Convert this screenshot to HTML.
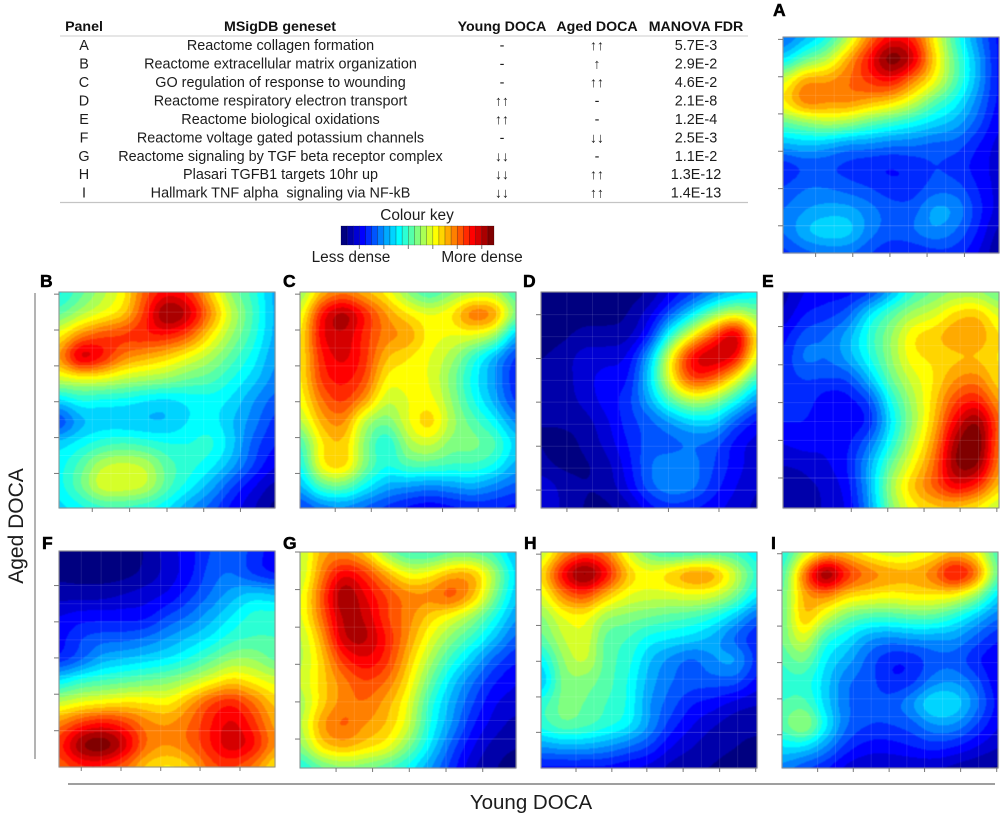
<!DOCTYPE html>
<html lang="en">
<head>
<meta charset="utf-8">
<title>Young and aged DOCA geneset density plots</title>
<style>
html,body{margin:0;padding:0;background:#fff;width:1000px;height:821px;overflow:hidden}
svg{display:block}
text{font-family:"Liberation Sans",sans-serif;fill:#1c1c1c}
.h{font-weight:bold;font-size:14.2px;text-anchor:middle;fill:#111}
.c{font-size:14.4px;text-anchor:middle}
.a{font-size:14px;text-anchor:middle}
.l{font-weight:bold;font-size:17.5px;fill:#000;stroke:#000;stroke-width:.5px}
.k{font-size:15.4px;text-anchor:middle}
</style>
</head>
<body>
<svg id="figure" width="1000" height="821" viewBox="0 0 1000 821" xmlns="http://www.w3.org/2000/svg">
  <g>
    <g>
      <text class="h" x="84" y="31">Panel</text>
      <text class="h" x="280" y="31">MSigDB geneset</text>
      <text class="h" x="502" y="31">Young DOCA</text>
      <text class="h" x="597" y="31">Aged DOCA</text>
      <text class="h" x="696" y="31">MANOVA FDR</text>
    </g>
    <line x1="60" y1="36" x2="748" y2="36" stroke="#d8d8d8" stroke-width="1.3"/>
    <g><text class="c" x="84" y="50">A</text><text class="c" x="280.500" y="50">Reactome collagen formation</text><text class="c" x="502" y="50">-</text><text class="a" x="597" y="50">↑↑</text><text class="c" x="696" y="50">5.7E-3</text></g>
    <g><text class="c" x="84" y="68.500">B</text><text class="c" x="280.500" y="68.500">Reactome extracellular matrix organization</text><text class="c" x="502" y="68.500">-</text><text class="a" x="597" y="68.500">↑</text><text class="c" x="696" y="68.500">2.9E-2</text></g>
    <g><text class="c" x="84" y="87">C</text><text class="c" x="280.500" y="87">GO regulation of response to wounding</text><text class="c" x="502" y="87">-</text><text class="a" x="597" y="87">↑↑</text><text class="c" x="696" y="87">4.6E-2</text></g>
    <g><text class="c" x="84" y="105.500">D</text><text class="c" x="280.500" y="105.500">Reactome respiratory electron transport</text><text class="a" x="502" y="105.500">↑↑</text><text class="c" x="597" y="105.500">-</text><text class="c" x="696" y="105.500">2.1E-8</text></g>
    <g><text class="c" x="84" y="124">E</text><text class="c" x="280.500" y="124">Reactome biological oxidations</text><text class="a" x="502" y="124">↑↑</text><text class="c" x="597" y="124">-</text><text class="c" x="696" y="124">1.2E-4</text></g>
    <g><text class="c" x="84" y="142.500">F</text><text class="c" x="280.500" y="142.500">Reactome voltage gated potassium channels</text><text class="c" x="502" y="142.500">-</text><text class="a" x="597" y="142.500">↓↓</text><text class="c" x="696" y="142.500">2.5E-3</text></g>
    <g><text class="c" x="84" y="161">G</text><text class="c" x="280.500" y="161">Reactome signaling by TGF beta receptor complex</text><text class="a" x="502" y="161">↓↓</text><text class="c" x="597" y="161">-</text><text class="c" x="696" y="161">1.1E-2</text></g>
    <g><text class="c" x="84" y="179">H</text><text class="c" x="280.500" y="179">Plasari TGFB1 targets 10hr up</text><text class="a" x="502" y="179">↓↓</text><text class="a" x="597" y="179">↑↑</text><text class="c" x="696" y="179">1.3E-12</text></g>
    <g><text class="c" x="84" y="197.500">I</text><text class="c" x="280.500" y="197.500">Hallmark TNF alpha&#160; signaling via NF-kB</text><text class="a" x="502" y="197.500">↓↓</text><text class="a" x="597" y="197.500">↑↑</text><text class="c" x="696" y="197.500">1.4E-13</text></g>
    <line x1="60" y1="202.500" x2="748" y2="202.500" stroke="#c4c4c4" stroke-width="1.3"/>
  </g>
  <g id="colour-key">
    <text class="k" x="417" y="220">Colour key</text>
    <text class="k" x="351" y="262">Less dense</text>
    <text class="k" x="482" y="262">More dense</text>
  </g>
  <g id="panels"></g>
  <line x1="35" y1="293" x2="35" y2="759" stroke="#8a8a8a" stroke-width="1.3"/>
  <line x1="68" y1="784" x2="995" y2="784" stroke="#666" stroke-width="1.3"/>
  <text transform="translate(23 526) rotate(-90)" text-anchor="middle" style="font-size:21px">Aged DOCA</text>
  <text x="531" y="809" text-anchor="middle" style="font-size:20.5px">Young DOCA</text>
</svg>
<script>
// Density band levels (0 = least dense, 24 = most dense), rows top to bottom.
const densityA = [
[5,7,9,13,18,21,20,15,10,6,3],[8,11,13,17,21,25,22.5,16,11,7,3],[14,17.5,17.5,18.5,20,21,18,15,11,7,3],
[15.5,18.5,18,18,17,16,14,11,9,6,3],[11,12,13,12.5,11,10,9,8,7,5,2.5],[7,7.5,7,6,6,5.5,5.5,5,5,3.5,2],
[3.5,4.5,4.5,4,3.5,3.3,3.7,4.5,4,3,2],[4.5,5.5,5.5,5,4.5,3.8,3.8,5,5,3.5,2],[5.5,6.5,7,7,6,5,5,7,6.5,4,2],
[5.5,7.5,8.5,8.2,6,5,5.5,6.5,5.5,3.5,1],[4,5,5.5,5.5,4.5,3.5,3.5,4,4,2.5,0.5]];
const densityB = [
[9,11,13,15,19,21,20,16,12,10,7],[11,13,14.5,16,20,24.5,22.5,18,13.5,10.5,7],[15,18,19.5,20,20.5,20.5,19,15.5,12.5,10,7],
[17.5,23,21,18,17,16,14.5,13,11,9,6.5],[14,14.5,14.5,13.5,13,12.5,11.5,11,9.5,8,6],[8,9.5,9,9,8.3,8,8.7,9,8.3,6.5,5],
[4,7,7.7,7.5,7.3,7.3,8.5,9,7.5,6,4],[8,9,10,10.5,10,9.5,9.5,10,8,5,3.5],[9,11,13.5,14,13.5,11,10,9,7,4.5,2.5],
[9,11.5,14.5,14.5,13.8,11,9,7,4.5,2.5,1],[8,9,10,10,9.5,8.5,6.5,5,3,1.5,0]];
const densityC = [
[12,16.5,18,16.5,15,12,10,12,13,13,10],[14,21,23.5,20.5,17.5,15.5,14.5,15.5,19,18,12],[15,21.5,22.5,20,18,17.5,15,14.5,14.5,13,7],
[15,20.5,22,20,16.5,15.5,14.5,13,10,7,4],[15,20,21,19.5,15,15,14.5,12,9,6.5,3.5],[14.5,18.5,20,17.5,13.5,14.5,15,12.5,9.5,7,4],
[13,17,18,13,11.5,14.5,16.5,13,11,9,6],[10,15.5,16.5,12,9,13,14,12,12,11,8],[9,15.5,16.5,12,9.5,11,11,10.5,10.5,9.5,7],
[7,11,11.5,9,7,6.5,6,6.5,7,6,5],[4,5.5,6,5,4,3,2.5,3,3.5,3.5,3]];
const densityD = [
[0,0,0,0,0,0.5,2.5,4,6,7.5,8.5],[0,0,0,0,0.4,2,5,8.5,12,14,12],[0,0.2,0.9,0.9,1,3.5,10,15,19.5,23,15],
[0.4,1,2,2,2.5,7,15,21.5,23,21.5,14],[0.8,1,2.1,3,3.2,8,15,20,19,15,10],[0.7,1,1.8,3,4,7,11,13.5,12.5,9.5,6],
[0.5,0.7,1,2.2,4,5,6.5,8,8,5,3],[0.5,0,0.7,1.8,3.5,5,5,5.5,5,3,2],[0.8,0.2,0.3,1,3,5.5,6.2,6,4.5,3,1.8],
[2.3,1.2,0.5,0.8,2.5,5.2,6.5,6,4,2.5,1.5],[2.5,1.3,0.4,0.2,1,3,4,3.5,2.8,2,1.2]];
const densityE = [
[1,2.5,3,3,4,7,10,11.5,12.5,12.5,11],[1.5,3.5,4,5,8.5,11,13,14,16,16.5,14],[3,5,5.5,7,10,12.5,15.5,16.3,17.5,17.5,15.5],
[3.5,6,5.5,7,9.5,12.5,15.3,15.7,16.2,16.3,15.3],[4,4.5,4.5,4.5,7.5,11.5,14,15.5,17.5,18,15.5],[4.5,4.2,2.7,3,4.5,9.5,13,16,19.5,20.5,17],
[3.5,3.5,2.5,2.7,3.5,8.5,12.5,16.5,21.5,24,18.5],[2.5,3,2.7,3.2,5.5,9.5,13.5,17.5,23.5,25,18],[1.5,1.7,2.3,3.5,7,11.5,15,18.5,24,24,17.5],
[0.7,1.2,1.7,3,7,13,16.5,19,21.5,20,16],[0.5,0.8,1.7,2.5,6.5,12,15,16,16,15,13]];
const densityF = [
[0,0,0,0,0.5,2,3,4.5,5.5,4,3],[0.2,0,0,0,0.7,1.8,3,5,5.5,4,3],[1,1,1,1.5,2,2.5,4,5.5,7,8,7.5],
[2.5,3,3,3,3,4.5,5.5,7,8.5,10,10],[3,4.5,5,5,5.5,6.5,7.5,8.5,10,10.5,10.5],[3.5,5,7,7.5,8,8.5,9.5,11,12.5,12.5,11],
[8.5,10,10.5,11,11.5,12,13,14.5,16,15,14],[13.5,14.5,15,15.5,15.5,15,17,19.5,20.5,18.5,16],[18,20,21,20,18,17.5,18.5,20.5,22,20,17],
[20,24,25,22.5,18.5,17.5,18.5,20.5,22.5,21,17.5],[18.5,20,20,18.5,16,15,16,19,19.5,18,15]];
const densityG = [
[13,17,17.5,16,12,10,10,11,11,10,7],[13,18,21.5,20,17,14.5,15,17,17,13,8],[14,19,24,21.5,19.5,18,18,19.5,17,12,7.5],
[14,18.5,23,22.5,19.5,18,16,14.5,12.5,9.5,6.5],[13,17,22.5,23,20.5,17.5,14.5,12,10,7.5,5],[13,16,20,21.5,20,16.5,13,10,7.5,5,3.5],
[13.5,16,18,19.5,18.5,15.5,11.5,8,5.5,3.5,2.5],[12.5,16,18,18.5,17,14.5,10,7,4.5,2.5,2],[13,17.5,19,17.5,16.5,14,9.5,6.5,3.5,2,1],
[12,16,17,16,15,12,8.5,5,2.5,1,0.5],[9,11,12,11.5,10.5,9,6.5,4,1.5,0.5,0]];
const densityH = [
[13,17,19,18,14,11,9.5,10,10.5,10,8.5],[15.5,21.5,25,21.5,16.5,15,16.5,18,17.5,14,10],[14,18,19.5,16.5,14.5,14,14,14.5,14,12,8.5],
[12,14.5,15,12.5,12,11.5,11,10.5,9.5,7.5,5],[11,13.5,14.5,11,10.5,9,8.5,8,7,5,3.5],[8.5,12.5,14,11,10,7.5,6,5,6.5,7,4],
[7,12,12,11,9.5,7,5.5,5,5,5,3],[10,12,11.5,10.5,9.5,6.5,5,3.5,3,2,1.5],[10,11.5,11,10,9,6.5,4,2.5,1.5,0.8,0.7],
[6.5,7,7,6.5,5.5,4.5,2.5,1.5,0.8,0.5,0.3],[3,3,3,3,2.5,2,1,0.6,0.4,0.2,0]];
const densityI = [
[9,13,16,16,14.5,13.5,14,15,16.5,15,10],[10,18.5,25,20.5,18.5,17.5,17,18.5,22,19,11],[11,17,18,16,15.5,15,15.5,15.5,15,12.5,8],
[11,17,14,11.5,10.5,10.5,11,11,9.5,7.5,5.5],[11.5,14.5,10,8.5,6.5,6,6.5,6.5,6.5,5,3.5],[10.5,12,8.5,7,5,3.5,3.5,5,5,3.5,2.5],
[10,10,8,5.5,5,3.5,4,6,6.5,5,2.5],[10.5,11,8,5.5,5,5,6.5,9,8.5,6,3],[11,13.5,9,5.5,4.5,4.5,5,6.5,6.5,4.5,2.5],
[8.5,8.5,6.5,4,3,3,3.5,4,3.5,2.5,1.5],[6,4.5,3.5,2,1.5,1.5,1.5,1.5,1,0.5,0.3]];

// Axis tick values, on each panel's normalised 0-1 density axis.
const xTicksA = [0.151,0.323,0.495,0.667,0.84];
const yTicksA = [0.011,0.184,0.356,0.529,0.702,0.874];
const xTicksB = [0.154,0.327,0.5,0.67,0.84];
const yTicksB = [0.01,0.176,0.342,0.508,0.674,0.84];
const xTicksC = [0.163,0.33,0.495,0.66,0.825,0.995];
const yTicksC = [0.01,0.176,0.342,0.508,0.674,0.84];
const xTicksD = [0.12,0.357,0.59,0.824];
const yTicksD = [0.105,0.308,0.51,0.714,0.917];
const xTicksE = [0.148,0.316,0.485,0.653,0.82,0.99];
const yTicksE = [0.16,0.337,0.512,0.687,0.861];
const xTicksF = [0.103,0.287,0.471,0.653,0.838];
const yTicksF = [0.16,0.328,0.495,0.663,0.832];
const xTicksG = [0.167,0.336,0.506,0.676,0.846];
const yTicksG = [0,0.174,0.348,0.52,0.694,0.866];
const xTicksH = [0.162,0.328,0.49,0.658,0.827,0.994];
const yTicksH = [0.01,0.175,0.34,0.506,0.671,0.835];
const xTicksI = [0.165,0.33,0.496,0.66,0.827,0.994];
const yTicksI = [0.008,0.177,0.343,0.512,0.68,0.846];

const keyLevels = [0,1,2,3,4,5,6,7,8,9,10,11,12,13,14,15,16,17,18,19,20,21,22,23,24];
const keyTicks = [3,7,11,15,19,23];

const panelLetters = ['A','B','C','D','E','F','G','H','I'];
const panelGrids = [densityA,densityB,densityC,densityD,densityE,densityF,densityG,densityH,densityI];
const panelXTicks = [xTicksA,xTicksB,xTicksC,xTicksD,xTicksE,xTicksF,xTicksG,xTicksH,xTicksI];
const panelYTicks = [yTicksA,yTicksB,yTicksC,yTicksD,yTicksE,yTicksF,yTicksG,yTicksH,yTicksI];

const NS = 'http://www.w3.org/2000/svg';
function make(tag, attrs, parent){
  const node = document.createElementNS(NS, tag);
  for (const k in attrs) node.setAttribute(k, attrs[k]);
  parent.appendChild(node);
  return node;
}
function clamp01(v){ return Math.max(0, Math.min(1, v)); }
function jet(level){
  const t = level / 24;
  const r = clamp01(1.5 - Math.abs(4 * t - 3));
  const g = clamp01(1.5 - Math.abs(4 * t - 2));
  const b = clamp01(1.5 - Math.abs(4 * t - 1));
  return 'rgb(' + Math.round(r * 255) + ',' + Math.round(g * 255) + ',' + Math.round(b * 255) + ')';
}
// Half Catmull-Rom, half B-spline: passes near the read values without boxy ringing.
function cubic(a, b, c, d, t){
  const cr = b + 0.5 * t * (c - a + t * (2 * a - 5 * b + 4 * c - d + t * (3 * (b - c) + d - a)));
  const u = 1 - t;
  const bs = (u * u * u * a + (3 * t * t * t - 6 * t * t + 4) * b + (-3 * t * t * t + 3 * t * t + 3 * t + 1) * c + t * t * t * d) / 6;
  return 0.5 * cr + 0.5 * bs;
}
function sampleGrid(grid, gx, gy){
  const rows = grid.length, cols = grid[0].length;
  const ix = Math.min(cols - 2, Math.floor(gx)), iy = Math.min(rows - 2, Math.floor(gy));
  const tx = gx - ix, ty = gy - iy;
  const vals = [];
  for (let j = -1; j <= 2; j++) {
    const row = grid[Math.max(0, Math.min(rows - 1, iy + j))];
    const c = k => row[Math.max(0, Math.min(cols - 1, ix + k))];
    vals.push(cubic(c(-1), c(0), c(1), c(2), tx));
  }
  return cubic(vals[0], vals[1], vals[2], vals[3], ty);
}

const panelLayout = {
  A:{x:783,y:37,lx:773,ly:16}, B:{x:59,y:292,lx:40,ly:287}, C:{x:300,y:292,lx:283,ly:287},
  D:{x:541,y:292,lx:523,ly:287}, E:{x:783,y:292,lx:762,ly:287}, F:{x:59,y:551,lx:42,ly:549},
  G:{x:300,y:552,lx:283,ly:549}, H:{x:541,y:552,lx:524,ly:549}, I:{x:782,y:552,lx:771,ly:549}
};
const PANEL_SIZE = 216;
const panelsRoot = document.getElementById('panels');

panelLetters.forEach(function(letter, p){
  const box = panelLayout[letter];
  const grid = panelGrids[p];
  const xScale = u => box.x + u * PANEL_SIZE;
  const yScale = u => box.y + u * PANEL_SIZE;

  const group = make('g', {}, panelsRoot);
  
  

  const label = make('text', {x: box.lx, y: box.ly, class: 'l'}, group);
  label.textContent = letter;
  
  

  const runs = {};
  const rowCount = grid.length - 1, colCount = grid[0].length - 1;
  for (let py = 0; py < PANEL_SIZE; py++) {
    let start = 0, current = -1;
    for (let px = 0; px <= PANEL_SIZE; px++) {
      let band = -2;
      if (px < PANEL_SIZE) {
        const v = sampleGrid(grid, (px + 0.5) / PANEL_SIZE * colCount, (py + 0.5) / PANEL_SIZE * rowCount);
        band = Math.max(0, Math.min(24, Math.round(v)));
      }
      if (band !== current) {
        if (current >= 0) {
          runs[current] = (runs[current] || '') + 'M' + (box.x + start) + ' ' + (box.y + py) + 'h' + (px - start) + 'v1h' + (start - px) + 'z';
        }
        start = px;
        current = band;
      }
    }
  }
  const field = make('g', {'shape-rendering': 'crispEdges', style: 'filter:blur(0.45px)'}, group);
  
  
  Object.keys(runs).forEach(function(band){
    const path = make('path', {d: runs[band], fill: jet(+band), stroke: jet(+band), 'stroke-width': 0.3}, field);
    
    
  });

  const xTicks = panelXTicks[p], yTicks = panelYTicks[p];
  const gridLines = make('g', {stroke: 'rgba(255,255,255,0.1)', 'stroke-width': 1}, group);
  
  
  xTicks.forEach(function(t, i){
    [t, (i + 1 < xTicks.length ? (t + xTicks[i + 1]) / 2 : t)].forEach(function(u){
      if (u <= 0.005 || u >= 0.985) return;
      const line = make('line', {x1: xScale(u), x2: xScale(u), y1: box.y, y2: box.y + PANEL_SIZE}, gridLines);
      
      
    });
  });
  yTicks.forEach(function(t, i){
    [t, (i + 1 < yTicks.length ? (t + yTicks[i + 1]) / 2 : t)].forEach(function(u){
      if (u <= 0.015 || u >= 0.985) return;
      const line = make('line', {y1: yScale(u), y2: yScale(u), x1: box.x, x2: box.x + PANEL_SIZE}, gridLines);
      
      
    });
  });

  const frame = make('rect', {x: box.x, y: box.y, width: PANEL_SIZE, height: PANEL_SIZE, fill: 'none', stroke: '#8c8c8c', 'stroke-width': 1}, group);
  
  

  xTicks.forEach(function(u){
    const tick = make('line', {x1: xScale(u), x2: xScale(u), y1: box.y + PANEL_SIZE, y2: box.y + PANEL_SIZE + 4, stroke: '#777', 'stroke-width': 1}, group);
    
    
  });
  yTicks.forEach(function(u){
    const tick = make('line', {x1: box.x - 5, x2: box.x, y1: yScale(u), y2: yScale(u), stroke: '#777', 'stroke-width': 1}, group);
    
    
  });
});

const keyRoot = document.getElementById('colour-key');
const keyX = 341, keyY = 226, keyW = 153, keyH = 19;
const keyScale = v => keyX + v / keyLevels.length * keyW;
keyLevels.forEach(function(level){
  const swatch = make('rect', {x: keyScale(level), y: keyY, width: keyW / keyLevels.length, height: keyH, fill: jet(level), stroke: 'rgba(0,0,0,0.35)', 'stroke-width': 0.6}, keyRoot);
  
  
});
keyTicks.forEach(function(level){
  const tick = make('line', {x1: keyScale(level), x2: keyScale(level), y1: keyY + keyH, y2: keyY + keyH + 4, stroke: '#777', 'stroke-width': 1}, keyRoot);
  
  
});
</script>
</body>
</html>
